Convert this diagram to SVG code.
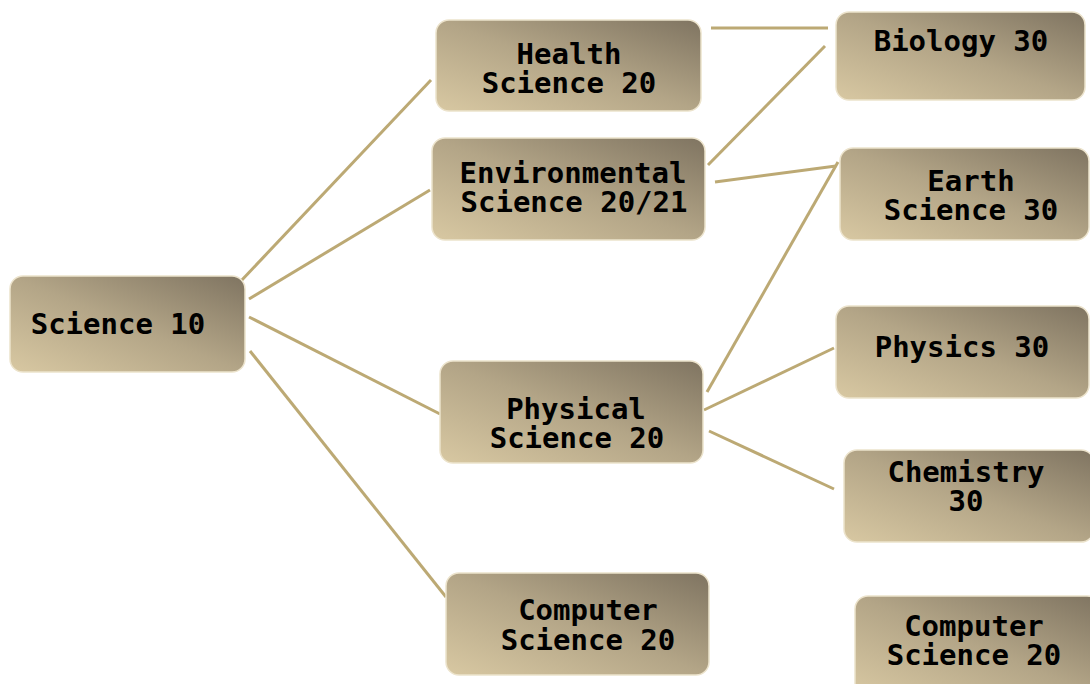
<svg xmlns="http://www.w3.org/2000/svg" width="1090" height="684" viewBox="0 0 1090 684">
<defs>
<linearGradient id="g" x1="0" y1="1" x2="1" y2="0">
<stop offset="0" stop-color="#d8c8a2"/>
<stop offset="0.5" stop-color="#b3a587"/>
<stop offset="1" stop-color="#7f7461"/>
</linearGradient>
</defs>
<style>
.n{fill:url(#g);stroke:#ece3cc;stroke-width:1.5}
.t{font-family:"DejaVu Sans Mono","Liberation Mono",monospace;font-weight:bold;font-size:29px;fill:#000;text-anchor:middle}
.c line{stroke:#bca974;stroke-width:3}
</style>
<rect width="1090" height="684" fill="#fff"/>
<g class="c" id="connectors">
<line x1="240" y1="282" x2="431" y2="80"/>
<line x1="249" y1="299" x2="430" y2="190"/>
<line x1="249" y1="317" x2="440" y2="414"/>
<line x1="250" y1="351" x2="446" y2="597"/>
<line x1="711" y1="28" x2="828" y2="28"/>
<line x1="708" y1="165" x2="825" y2="46"/>
<line x1="715" y1="182" x2="836" y2="166"/>
<line x1="707" y1="392" x2="838" y2="162"/>
<line x1="704" y1="410" x2="834" y2="348"/>
<line x1="709" y1="431" x2="834" y2="489"/>
</g>
<g id="science10"><rect class="n" x="10" y="276" width="235" height="96" rx="13"/><text class="t" x="118" y="334">Science 10</text></g>
<g id="health20"><rect class="n" x="436" y="20" width="265" height="91" rx="13"/><text class="t" x="569" y="64">Health</text><text class="t" x="569" y="93">Science 20</text></g>
<g id="env20"><rect class="n" x="432" y="138" width="273" height="102" rx="13"/><text class="t" x="573" y="183">Environmental</text><text class="t" x="574" y="212">Science 20/21</text></g>
<g id="phys20"><rect class="n" x="440" y="361" width="263" height="102" rx="13"/><text class="t" x="576" y="419">Physical</text><text class="t" x="577" y="448">Science 20</text></g>
<g id="comp20a"><rect class="n" x="446" y="573" width="263" height="102" rx="13"/><text class="t" x="588" y="620">Computer</text><text class="t" x="588" y="650">Science 20</text></g>
<g id="bio30"><rect class="n" x="836" y="12" width="249" height="88" rx="13"/><text class="t" x="961" y="51">Biology 30</text></g>
<g id="earth30"><rect class="n" x="840" y="148" width="249" height="92" rx="13"/><text class="t" x="971" y="191">Earth</text><text class="t" x="971" y="220">Science 30</text></g>
<g id="physics30"><rect class="n" x="836" y="306" width="253" height="92" rx="13"/><text class="t" x="962" y="357">Physics 30</text></g>
<g id="chem30"><rect class="n" x="844" y="450" width="250" height="92" rx="13"/><text class="t" x="966" y="482">Chemistry</text><text class="t" x="966" y="511">30</text></g>
<g id="comp20b"><rect class="n" x="855" y="596" width="245" height="100" rx="13"/><text class="t" x="974" y="636">Computer</text><text class="t" x="974" y="665">Science 20</text></g>
</svg>
